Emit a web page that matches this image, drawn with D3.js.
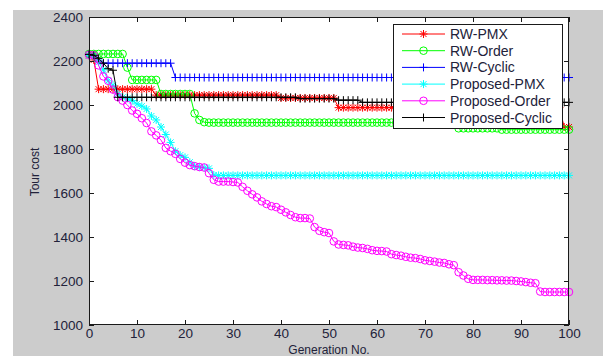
<!DOCTYPE html>
<html>
<head>
<meta charset="utf-8">
<script src="https://cdn.jsdelivr.net/npm/d3@7"></script>
<style>
  html, body { margin: 0; padding: 0; background: #ffffff; }
  svg { display: block; }
  text { font-family: "Liberation Sans", Arial, sans-serif; fill: #22223a; }
</style>
</head>
<body>
<svg id="chart" width="603" height="356"></svg>
<script>
// ---------------- data ----------------
const generations = d3.range(0, 101);
const xTickValues = [0, 10, 20, 30, 40, 50, 60, 70, 80, 90, 100];
const yTickValues = [1000, 1200, 1400, 1600, 1800, 2000, 2200, 2400];
const seriesNames = ["RW-PMX", "RW-Order", "RW-Cyclic", "Proposed-PMX", "Proposed-Order", "Proposed-Cyclic"];
const seriesColors = ["#ff0000", "#00ff00", "#0000ff", "#00ffff", "#ff00ff", "#000000"];
const seriesMarkers = ["star", "circle", "plus", "star", "circle", "plus"];

const rwPMX = [
  2225,2205,2072,2072,2072,2072,2072,2072,2072,2072,
  2072,2072,2072,2072,2045,2045,2045,2045,2045,2045,
  2045,2045,2045,2045,2045,2045,2045,2045,2045,2045,
  2045,2045,2045,2045,2045,2045,2045,2045,2045,2045,
  2032,2032,2032,2032,2032,2032,2032,2032,2032,2032,
  2032,2032,1988,1988,1988,1988,1988,1988,1988,1988,
  1988,1988,1988,1988,1988,1988,1988,1988,1988,1988,
  1988,1988,1988,1988,1988,1988,1988,1988,1988,1988,
  1988,1988,1988,1988,1988,1988,1988,1988,1988,1988,
  1988,1988,1988,1988,1988,1988,1988,1988,1988,1900,
  1900
];
const rwOrder = [
  2232,2232,2232,2232,2232,2232,2232,2232,2170,2114,
  2114,2114,2114,2114,2114,2050,2050,2050,2050,2050,
  2050,2050,1962,1932,1922,1920,1920,1920,1920,1920,
  1920,1920,1920,1920,1920,1920,1920,1920,1920,1920,
  1920,1920,1920,1920,1920,1920,1920,1920,1920,1920,
  1920,1920,1920,1920,1920,1920,1920,1920,1920,1920,
  1920,1920,1920,1920,1920,1920,1920,1920,1920,1920,
  1920,1920,1920,1920,1920,1920,1920,1894,1894,1894,
  1894,1894,1894,1894,1894,1894,1888,1888,1888,1888,
  1888,1888,1888,1888,1888,1888,1888,1888,1888,1888,
  1888
];
const rwCyclic = [
  2228,2222,2200,2190,2190,2190,2190,2190,2190,2190,
  2190,2190,2190,2190,2190,2190,2190,2190,2125,2125,
  2125,2125,2125,2125,2125,2125,2125,2125,2125,2125,
  2125,2125,2125,2125,2125,2125,2125,2125,2125,2125,
  2125,2125,2125,2125,2125,2125,2125,2125,2125,2125,
  2125,2125,2125,2125,2125,2125,2125,2125,2125,2125,
  2125,2125,2125,2125,2125,2125,2125,2125,2125,2125,
  2125,2125,2125,2125,2125,2125,2125,2125,2125,2125,
  2125,2125,2125,2125,2125,2125,2125,2125,2125,2125,
  2125,2125,2125,2125,2125,2125,2125,2125,2125,2125,
  2125
];
const proposedPMX = [
  2225,2220,2195,2160,2110,2090,2050,2035,2030,2020,
  2005,1995,1982,1950,1932,1900,1866,1830,1790,1772,
  1762,1740,1722,1718,1715,1712,1682,1680,1680,1680,
  1680,1680,1680,1680,1680,1680,1680,1680,1680,1680,
  1680,1680,1680,1680,1680,1680,1680,1680,1680,1680,
  1680,1680,1680,1680,1680,1680,1680,1680,1680,1680,
  1680,1680,1680,1680,1680,1680,1680,1680,1680,1680,
  1680,1680,1680,1680,1680,1680,1680,1680,1680,1680,
  1680,1680,1680,1680,1680,1680,1680,1680,1680,1680,
  1680,1680,1680,1680,1680,1680,1680,1680,1680,1680,
  1680
];
const proposedOrder = [
  2228,2226,2180,2130,2110,2070,2036,2020,2000,1975,
  1960,1940,1918,1880,1862,1840,1805,1790,1778,1755,
  1738,1727,1722,1718,1716,1690,1660,1652,1652,1652,
  1650,1648,1628,1610,1594,1580,1562,1550,1540,1536,
  1524,1512,1500,1490,1486,1486,1484,1445,1428,1422,
  1418,1380,1366,1364,1362,1356,1352,1350,1346,1340,
  1337,1336,1334,1322,1318,1315,1310,1306,1304,1300,
  1294,1291,1288,1284,1282,1276,1272,1240,1225,1210,
  1205,1205,1205,1204,1204,1203,1203,1202,1202,1200,
  1198,1195,1192,1190,1152,1150,1150,1150,1150,1150,
  1150
];
const proposedCyclic = [
  2230,2226,2212,2190,2165,2158,2035,2035,2035,2035,
  2035,2035,2035,2035,2035,2035,2035,2035,2035,2035,
  2035,2035,2035,2035,2035,2035,2035,2035,2035,2035,
  2035,2035,2035,2035,2035,2035,2035,2035,2035,2035,
  2035,2035,2035,2035,2029,2029,2029,2029,2029,2029,
  2029,2029,2022,2022,2022,2022,2022,2012,2012,2012,
  2012,2012,2012,2012,2012,2012,2012,2012,2012,2012,
  2012,2012,2012,2012,2012,2012,2012,2012,2012,2012,
  2012,2012,2012,2012,2012,2012,2012,2012,2012,2012,
  2012,2012,2012,2012,2012,2012,2012,2012,2012,2012,
  2012
];
const seriesValues = [rwPMX, rwOrder, rwCyclic, proposedPMX, proposedOrder, proposedCyclic];

// ---------------- layout ----------------
const svg = d3.select("#chart");
const plot = { left: 89, right: 569, top: 17, bottom: 325 };

// figure background (MATLAB gray)
svg.append("rect").attr("x", 13).attr("y", 10).attr("width", 590).attr("height", 346).attr("fill", "#cccccc");
// axes background
svg.append("rect").attr("x", plot.left).attr("y", plot.top)
  .attr("width", plot.right - plot.left).attr("height", plot.bottom - plot.top).attr("fill", "#ffffff");

const x = d3.scaleLinear().domain([0, 100]).range([plot.left, plot.right]);
const y = d3.scaleLinear().domain([1000, 2400]).range([plot.bottom, plot.top]);

// ---------------- series ----------------
function markerPath(type) {
  if (type === "plus") return "M-4,0H4M0,-4V4";
  if (type === "star") return "M-4,0H4M0,-4V4M-3,-3L3,3M-3,3L3,-3";
  return null;
}
function drawMarker(g, type, color) {
  if (type === "circle") {
    g.append("circle").attr("r", 3.8).attr("fill", "none").attr("stroke", color).attr("stroke-width", 1);
  } else {
    g.append("path").attr("d", markerPath(type)).attr("fill", "none").attr("stroke", color).attr("stroke-width", 1);
  }
}

const line = d3.line().x((d, i) => x(generations[i])).y(d => y(d));
const seriesLayer = svg.append("g");
seriesValues.forEach((vals, si) => {
  const g = seriesLayer.append("g");
  g.append("path").datum(vals).attr("d", line)
    .attr("fill", "none").attr("stroke", seriesColors[si]).attr("stroke-width", 1);
  vals.forEach((v, i) => {
    const m = g.append("g").attr("transform", `translate(${x(generations[i])},${y(v)})`);
    drawMarker(m, seriesMarkers[si], seriesColors[si]);
  });
});

// ---------------- axes ----------------
const axisColor = "#1a1a1a";
const fmt = d3.format("d");
const xAxisB = d3.axisBottom(x).tickValues(xTickValues).tickFormat(fmt).tickSizeInner(-5).tickSizeOuter(0).tickPadding(3);
const xAxisT = d3.axisTop(x).tickValues(xTickValues).tickSizeInner(-5).tickSizeOuter(0).tickFormat("");
const yAxisL = d3.axisLeft(y).tickValues(yTickValues).tickFormat(fmt).tickSizeInner(-5).tickSizeOuter(0).tickPadding(6);
const yAxisR = d3.axisRight(y).tickValues(yTickValues).tickSizeInner(-5).tickSizeOuter(0).tickFormat("");

function styleAxis(g) {
  g.select(".domain").remove();
  g.selectAll("line").attr("stroke", axisColor);
  g.selectAll("text").attr("font-size", 13.5).attr("fill", "#22223a")
    .attr("font-family", "'Liberation Sans', Arial, sans-serif");
}
svg.append("g").attr("transform", `translate(0,${plot.bottom})`).call(xAxisB).call(styleAxis);
svg.append("g").attr("transform", `translate(0,${plot.top})`).call(xAxisT).call(styleAxis);
svg.append("g").attr("transform", `translate(${plot.left},0)`).call(yAxisL).call(styleAxis);
svg.append("g").attr("transform", `translate(${plot.right},0)`).call(yAxisR).call(styleAxis);

svg.append("rect").attr("x", plot.left + 0.5).attr("y", plot.top + 0.5)
  .attr("width", plot.right - plot.left - 1).attr("height", plot.bottom - plot.top - 1)
  .attr("fill", "none").attr("stroke", axisColor).attr("stroke-width", 1);

// axis labels
svg.append("text").attr("x", (plot.left + plot.right) / 2).attr("y", 353.5)
  .attr("text-anchor", "middle").attr("font-size", 12).text("Generation No.");
svg.append("text").attr("transform", "translate(39,172) rotate(-90)")
  .attr("text-anchor", "middle").attr("font-size", 12).text("Tour cost");

// ---------------- legend ----------------
const legend = { x: 393, y: 24, w: 169, h: 104, row0: 34, step: 16.7 };
const lg = svg.append("g");
lg.append("rect").attr("x", legend.x + 0.5).attr("y", legend.y + 0.5)
  .attr("width", legend.w).attr("height", legend.h)
  .attr("fill", "#ffffff").attr("stroke", axisColor).attr("stroke-width", 1);
seriesNames.forEach((name, si) => {
  const cy = legend.row0 + si * legend.step;
  lg.append("line").attr("x1", 402).attr("x2", 445).attr("y1", cy).attr("y2", cy)
    .attr("stroke", seriesColors[si]).attr("stroke-width", 1);
  const m = lg.append("g").attr("transform", `translate(423.5,${cy})`);
  drawMarker(m, seriesMarkers[si], seriesColors[si]);
  lg.append("text").attr("x", 450).attr("y", cy + 5).attr("font-size", 14).text(name);
});
</script>
</body>
</html>
